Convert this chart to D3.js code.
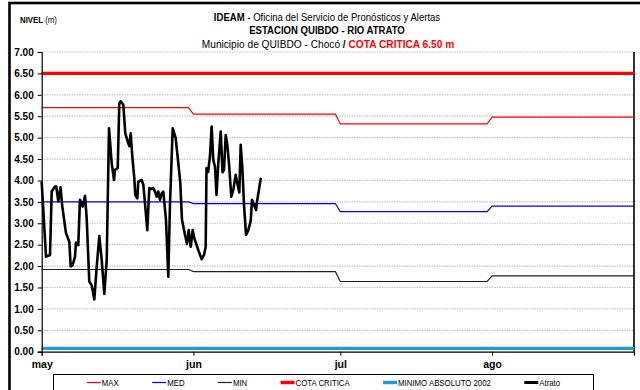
<!DOCTYPE html>
<html>
<head>
<meta charset="utf-8">
<script src="https://cdn.jsdelivr.net/npm/d3@7/dist/d3.min.js"></script>
<style>
  html, body { margin: 0; padding: 0; background: #fff; }
  svg { display: block; }
  .narrow { font-family: "Liberation Sans", Arial, sans-serif; }
  .axis text { font-family: "Liberation Sans", Arial, sans-serif; font-weight: bold; fill: #000; }
</style>
</head>
<body>
<svg id="chart" width="640" height="390"></svg>
<script>
// Month ticks, in days counted from 1 May
const monthStarts = [0, 31, 61, 92];
const monthEnds = [30, 60, 91, 121];
const monthLabels = ["may", "jun", "jul", "ago"];

// Level ticks (m)
const levelTicks = [0, 0.5, 1, 1.5, 2, 2.5, 3, 3.5, 4, 4.5, 5, 5.5, 6, 6.5, 7];

// Monthly reference levels (m)
const maxLevels = [5.70, 5.55, 5.32, 5.48];
const medLevels = [3.50, 3.46, 3.27, 3.40];
const minLevels = [1.92, 1.87, 1.64, 1.77];
const cotaCritica = 6.50;
const minimoAbsoluto2002 = 0.08;

// Río Atrato at Quibdó: reading time (days since 1 May) and level (m)
const atratoDay = [
  0, 0.88, 1.70, 2.04, 2.72, 2.98, 3.39, 3.84, 4.21, 4.96,
  5.64, 5.92, 6.33, 6.80, 7.00, 7.47, 7.82, 8.37, 8.85, 9.19,
  9.72, 10.21, 10.75, 11.24, 11.77, 12.26, 12.79, 13.28, 13.75, 14.30,
  14.77, 14.97, 15.53, 15.85, 16.14, 16.67, 17.08, 17.57, 17.90, 18.18,
  18.51, 18.92, 19.12, 19.53, 19.73, 20.43, 20.76, 21.10, 21.57, 21.98,
  22.39, 22.80, 23.15, 23.49, 23.82, 24.17, 24.51, 24.84, 25.39, 25.86,
  26.21, 26.76, 27.37, 27.91, 28.31, 28.66, 29.27, 29.68, 30.03, 30.44,
  30.85, 31.17, 31.66, 32.07, 32.69, 33.16, 33.50, 33.67, 34.00, 34.37,
  34.72, 35.05, 35.40, 35.71, 36.08, 36.57, 36.94, 37.24, 37.59, 37.92,
  38.26, 38.73, 39.14, 39.63, 39.90, 40.37, 40.65, 40.98, 41.33, 41.74,
  42.21, 42.70, 42.96, 43.37, 43.78, 43.98, 44.74
];
const atratoLevel = [
  3.95, 2.22, 2.26, 3.74, 3.86, 3.86, 3.51, 3.84, 3.39, 2.77,
  2.57, 1.99, 2.02, 2.22, 2.55, 2.49, 3.55, 3.39, 3.64, 3.12,
  1.64, 1.55, 1.22, 1.99, 2.70, 2.14, 1.35, 2.14, 5.22, 4.40,
  4.01, 4.25, 4.29, 5.80, 5.85, 5.77, 5.10, 4.91, 4.80, 5.10,
  4.56, 4.05, 3.66, 3.58, 3.97, 4.01, 3.90, 3.47, 2.84, 3.82,
  3.80, 3.82, 3.74, 3.62, 3.74, 3.55, 3.70, 3.74, 3.08, 1.75,
  3.45, 5.22, 4.99, 4.40, 3.95, 3.08, 2.73, 2.52, 2.84, 2.45,
  2.84, 2.65, 2.49, 2.35, 2.16, 2.26, 2.45, 4.29, 4.20, 4.56,
  5.26, 4.48, 4.32, 3.66, 4.40, 5.14, 4.19, 4.25, 5.06, 4.83,
  4.40, 3.62, 3.78, 4.13, 3.97, 3.72, 4.83, 4.32, 3.43, 2.73,
  2.84, 3.06, 3.55, 3.43, 3.31, 3.50, 4.04
];

const legendItems = [
  { name: "MAX", color: "#ff0000", width: 1.2 },
  { name: "MED", color: "#0000ff", width: 1.2 },
  { name: "MIN", color: "#222222", width: 1.2 },
  { name: "COTA CRITICA", color: "#ff0000", width: 3.5 },
  { name: "MINIMO ABSOLUTO 2002", color: "#1e9cd6", width: 3.5 },
  { name: "Atrato", color: "#000000", width: 3 }
];

const svg = d3.select("#chart");
const plot = { left: 41.7, right: 634, top: 52, bottom: 351.7 };
const squeeze = 0.87; // condensed look for title and legend lettering

const x = d3.scaleLinear().domain([0, 121]).range([plot.left, plot.right]);
const y = d3.scaleLinear().domain([0, 7]).range([plot.bottom, plot.top]);

// Outer frame
svg.append("rect")
  .attr("x", 9.5).attr("y", 3).attr("width", 660).attr("height", 420)
  .attr("fill", "none").attr("stroke", "#000").attr("stroke-width", 2.6);

// Horizontal dotted gridlines
svg.append("g").selectAll("line")
  .data(levelTicks.filter(d => d > 0))
  .join("line")
  .attr("x1", plot.left).attr("x2", plot.right)
  .attr("y1", d => y(d)).attr("y2", d => y(d))
  .attr("stroke", "#c4c4c4").attr("stroke-width", 1.2)
  .attr("stroke-dasharray", "1.5,1");

// Right edge of plot area
svg.append("line")
  .attr("x1", plot.right).attr("x2", plot.right)
  .attr("y1", plot.top).attr("y2", plot.bottom)
  .attr("stroke", "#000").attr("stroke-width", 1.6);

// Monthly reference series as step-like lines
const monthlyPoints = vals => monthStarts.flatMap((s, i) => [[s, vals[i]], [monthEnds[i], vals[i]]]);
const line = d3.line().x(d => x(d[0])).y(d => y(d[1]));

const refSeries = [
  { vals: maxLevels, color: "#ff0000" },
  { vals: medLevels, color: "#0000ff" },
  { vals: minLevels, color: "#222222" }
];
refSeries.forEach(s => {
  svg.append("path")
    .attr("d", line(monthlyPoints(s.vals)))
    .attr("fill", "none").attr("stroke", s.color).attr("stroke-width", 1.2);
});

// Critical level and absolute minimum
svg.append("path")
  .attr("d", line([[0, cotaCritica], [121, cotaCritica]]))
  .attr("fill", "none").attr("stroke", "#ff0000").attr("stroke-width", 3.2);
svg.append("path")
  .attr("d", line([[0, minimoAbsoluto2002], [121, minimoAbsoluto2002]]))
  .attr("fill", "none").attr("stroke", "#1e9cd6").attr("stroke-width", 3.2);

// Observed river level
svg.append("path")
  .attr("d", line(atratoDay.map((d, i) => [d, atratoLevel[i]])))
  .attr("fill", "none").attr("stroke", "#000").attr("stroke-width", 2.6)
  .attr("stroke-linejoin", "round").attr("stroke-linecap", "round");

// Axes
const yAxis = svg.append("g").attr("class", "axis")
  .attr("transform", `translate(${plot.left},0)`)
  .call(d3.axisLeft(y).tickValues(levelTicks).tickFormat(d3.format(".2f")).tickSize(4).tickPadding(4));
yAxis.selectAll("text").style("font-size", "10px");

const xAxis = svg.append("g").attr("class", "axis")
  .attr("transform", `translate(0,${plot.bottom})`)
  .call(d3.axisBottom(x).tickValues(monthStarts).tickFormat((d, i) => monthLabels[i]).tickSize(4).tickPadding(5));
xAxis.selectAll("text").style("font-size", "10.5px");

[yAxis, xAxis].forEach(a => {
  a.select(".domain").attr("stroke", "#000").attr("stroke-width", 1.2);
  a.selectAll(".tick line").attr("stroke", "#000").attr("stroke-width", 1);
});

// Text placed through a horizontally condensed group
const narrowText = (tx, ty, size, anchor, sx = squeeze) =>
  svg.append("g").attr("transform", `translate(${tx},${ty}) scale(${sx},1)`)
    .append("text").attr("class", "narrow")
    .attr("text-anchor", anchor).style("font-size", size + "px");

// Axis title
const yTitle = narrowText(20, 23, 9, "start");
yTitle.append("tspan").attr("font-weight", "bold").text("NIVEL");
yTitle.append("tspan").text(" (m)");

// Chart titles
const cx = 327;
const t1 = narrowText(cx, 21, 11, "middle");
t1.append("tspan").attr("font-weight", "bold").text("IDEAM");
t1.append("tspan").text(" - Oficina del Servicio de Pronósticos y Alertas");

narrowText(cx, 34, 11, "middle").attr("font-weight", "bold")
  .text("ESTACION QUIBDO - RIO ATRATO");

const t3 = narrowText(328, 47.5, 11.3, "middle", 0.9);
t3.append("tspan").text("Municipio de QUIBDO - Chocó ");
t3.append("tspan").attr("font-weight", "bold").text(" / ");
t3.append("tspan").attr("font-weight", "bold").attr("fill", "#ff0000").text(" COTA CRITICA 6.50 m");

// Legend
const legBox = { x: 53.5, y: 374.5, w: 540, h: 30 };
svg.append("rect")
  .attr("x", legBox.x).attr("y", legBox.y).attr("width", legBox.w).attr("height", legBox.h)
  .attr("fill", "#fff").attr("stroke", "#000").attr("stroke-width", 1);

const sampleLen = 14;
const legG = svg.append("g");
const items = legG.selectAll("g").data(legendItems).join("g");
items.append("line")
  .attr("x1", 0).attr("x2", sampleLen).attr("y1", 382.5).attr("y2", 382.5)
  .attr("stroke", d => d.color).attr("stroke-width", d => d.width);
items.append("g").attr("transform", `translate(${sampleLen + 1},386) scale(${squeeze},1)`)
  .append("text").attr("class", "narrow")
  .style("font-size", "9px").text(d => d.name);

const widths = [];
items.each(function() {
  widths.push(sampleLen + 1 + squeeze * d3.select(this).select("text").node().getComputedTextLength());
});
const gap = (legBox.w - d3.sum(widths)) / (legendItems.length + 1);
let cursor = legBox.x + gap;
items.attr("transform", (d, i) => {
  const tx = cursor;
  cursor += widths[i] + gap;
  return `translate(${tx},0)`;
});
</script>
</body>
</html>
